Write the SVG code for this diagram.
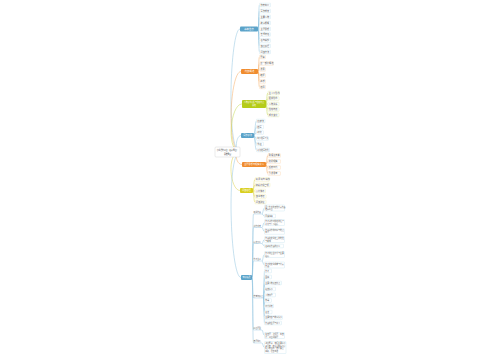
<svg xmlns="http://www.w3.org/2000/svg" width="500" height="360" viewBox="0 0 500 360">
<style>
text{font-family:"Noto Sans CJK SC","Noto Sans",sans-serif;fill:#555}
.lf{font-size:2.2px}
.sm{font-size:1.85px}
.br{font-size:2.4px;fill:#fff}
.rt{font-size:1.8px;fill:#333}
.cb{fill:none;stroke:#8fc3df;stroke-width:.5}
.co{fill:none;stroke:#f4a95e;stroke-width:.5}
.cg{fill:none;stroke:#c3d64a;stroke-width:.5}
.cy{fill:none;stroke:#ddd24a;stroke-width:.5}
.lb{fill:#fff;stroke:#b5d9ec;stroke-width:.3}
.lo{fill:#fff;stroke:#f8c897;stroke-width:.3}
.lg{fill:#fff;stroke:#d5e489;stroke-width:.3}
.ly{fill:#fff;stroke:#ece48a;stroke-width:.3}
.ul{stroke:#8fc3df;stroke-width:.4}
</style>
<rect width="500" height="360" fill="#fff"/>
<g id="connectors">
<path class="cb" d="M240,152 C226,152 230,29 240,29"/>
<path class="co" d="M240,152 C226,152 230,71.5 241,71.5"/>
<path class="cg" d="M240,152 C226,152 230,104 242,104"/>
<path class="cb" d="M240,152 C234,152 236,135.5 241,135.5"/>
<path class="co" d="M240,152 C234,152 236,164.5 242,164.5"/>
<path class="cy" d="M240,152 C226,152 230,190.5 240,190.5"/>
<path class="cb" d="M240,152 C226,152 230,277.5 241,277.5"/>
<g class="cb">
<path d="M258,29 C259,29 258.5,5 259.5,5"/><path d="M258,29 C259,29 258.5,11 259.5,11"/><path d="M258,29 C259,29 258.5,17 259.5,17"/><path d="M258,29 C259,29 258.5,23 259.5,23"/><path d="M258,29 C259,29 258.5,29 259.5,29"/><path d="M258,29 C259,29 258.5,34.5 259.5,34.5"/><path d="M258,29 C259,29 258.5,40.5 259.5,40.5"/><path d="M258,29 C259,29 258.5,46 259.5,46"/><path d="M258,29 C259,29 258.5,52 259.5,52"/>
</g>
<g class="co">
<path d="M258,71.5 C259,71.5 258.5,57 259.5,57"/><path d="M258,71.5 C259,71.5 258.5,63.5 259.5,63.5"/><path d="M258,71.5 C259,71.5 258.5,69.5 259.5,69.5"/><path d="M258,71.5 C259,71.5 258.5,75.5 259.5,75.5"/><path d="M258,71.5 C259,71.5 258.5,81.5 259.5,81.5"/><path d="M258,71.5 C259,71.5 258.5,87 259.5,87"/>
</g>
<g class="cg">
<path d="M266,104 C267,104 266.5,93 268,93"/><path d="M266,104 C267,104 266.5,98.5 268,98.5"/><path d="M266,104 C267,104 266.5,104 268,104"/><path d="M266,104 C267,104 266.5,109.5 268,109.5"/><path d="M266,104 C267,104 266.5,115 268,115"/>
</g>
<g class="cb">
<path d="M254,135.5 C255,135.5 255,121 256.5,121"/><path d="M254,135.5 C255,135.5 255,127 256.5,127"/><path d="M254,135.5 C255,135.5 255,132.5 256.5,132.5"/><path d="M254,135.5 C255,135.5 255,138.5 256.5,138.5"/><path d="M254,135.5 C255,135.5 255,144 256.5,144"/><path d="M254,135.5 C255,135.5 255,150 256.5,150"/>
</g>
<g class="co">
<path d="M266,164.5 C267,164.5 266.5,155.5 268,155.5"/><path d="M266,164.5 C267,164.5 266.5,161.5 268,161.5"/><path d="M266,164.5 C267,164.5 266.5,167.5 268,167.5"/><path d="M266,164.5 C267,164.5 266.5,173.5 268,173.5"/>
</g>
<g class="cy">
<path d="M253,190.5 C254,190.5 253.5,179.5 255,179.5"/><path d="M253,190.5 C254,190.5 253.5,185 255,185"/><path d="M253,190.5 C254,190.5 253.5,191 255,191"/><path d="M253,190.5 C254,190.5 253.5,196.5 255,196.5"/><path d="M253,190.5 C254,190.5 253.5,202 255,202"/>
</g>
<g class="cb">
<path d="M252,277.5 C253,277.5 252.5,214 253.5,214"/><path d="M252,277.5 C253,277.5 252.5,227.5 253.5,227.5"/><path d="M252,277.5 C253,277.5 252.5,243.5 253.5,243.5"/><path d="M252,277.5 C253,277.5 252.5,261 253.5,261"/><path d="M252,277.5 C253,277.5 252.5,298 253.5,298"/><path d="M252,277.5 C253,277.5 252.5,330 253.5,330"/><path d="M252,277.5 C253,277.5 252.5,343 253.5,343"/>
<path d="M262,214 C263,214 263,208 264.5,208"/><path d="M262,214 C263,214 263,216 264.5,216"/>
<path d="M262,227.5 C263,227.5 263,222.5 264.5,222.5"/><path d="M262,227.5 C263,227.5 263,231.5 264.5,231.5"/>
<path d="M262,243.5 C263,243.5 263,239.5 264.5,239.5"/><path d="M262,243.5 C263,243.5 263,246 264.5,246"/>
<path d="M262,261 C263,261 263,254.5 264.5,254.5"/><path d="M262,261 C263,261 263,265 264.5,265"/>
<path d="M263.5,298 C264,298 264,271 264.5,271"/><path d="M263.5,298 C264,298 264,277 264.5,277"/><path d="M263.5,298 C264,298 264,283 264.5,283"/><path d="M263.5,298 C264,298 264,289 264.5,289"/><path d="M263.5,298 C264,298 264,295 264.5,295"/><path d="M263.5,298 C264,298 264,300.5 264.5,300.5"/><path d="M263.5,298 C264,298 264,306 264.5,306"/><path d="M263.5,298 C264,298 264,312 264.5,312"/><path d="M263.5,298 C264,298 264,317.5 264.5,317.5"/><path d="M263.5,298 C264,298 264,323 264.5,323"/>
<path d="M262,330 C263,330 263,335.5 264.5,335.5"/>
<path d="M262,343 C263,343 263,347.5 264.5,347.5"/>
</g>
</g>
<g id="root">
<rect x="215" y="147" width="25" height="10" rx="1" fill="#fff" stroke="#bbb" stroke-width=".3"/>
<text class="rt" x="227.5" y="151.3" text-anchor="middle">小学课外阅读（名著导读）</text>
<text class="rt" x="227.5" y="154.8" text-anchor="middle">思维导图</text>
</g>
<g id="b1">
<rect x="240" y="26.5" width="18" height="5" rx="1" fill="#5ba3c9"/>
<text class="br" x="249" y="29.9" text-anchor="middle">基本信息</text>
</g>
<g id="b1-leaves">
<g id="b1l1"><rect class="lb" x="259.5" y="3.2" width="11" height="3.6" rx=".5"/><text class="lf" x="260.5" y="5.8">作者简介</text></g>
<g id="b1l2"><rect class="lb" x="259.5" y="9.2" width="11" height="3.6" rx=".5"/><text class="lf" x="260.5" y="11.8">写作背景</text></g>
<g id="b1l3"><rect class="lb" x="259.5" y="15.2" width="11" height="3.6" rx=".5"/><text class="lf" x="260.5" y="17.8">主要人物</text></g>
<g id="b1l4"><rect class="lb" x="259.5" y="21.2" width="11" height="3.6" rx=".5"/><text class="lf" x="260.5" y="23.8">故事梗概</text></g>
<g id="b1l5"><rect class="lb" x="259.5" y="27.2" width="11" height="3.6" rx=".5"/><text class="lf" x="260.5" y="29.8">主题思想</text></g>
<g id="b1l6"><rect class="lb" x="259.5" y="32.7" width="11" height="3.6" rx=".5"/><text class="lf" x="260.5" y="35.3">艺术特色</text></g>
<g id="b1l7"><rect class="lb" x="259.5" y="38.7" width="11" height="3.6" rx=".5"/><text class="lf" x="260.5" y="41.3">名句摘抄</text></g>
<g id="b1l8"><rect class="lb" x="259.5" y="44.2" width="11" height="3.6" rx=".5"/><text class="lf" x="260.5" y="46.8">读后感悟</text></g>
<g id="b1l9"><rect class="lb" x="259.5" y="50.2" width="11" height="3.6" rx=".5"/><text class="lf" x="260.5" y="52.8">阅读方法</text></g>
</g>
<g id="b2">
<rect x="241" y="69" width="17" height="5" rx="1" fill="#f08c2e"/>
<text class="br" x="249.5" y="72.4" text-anchor="middle">内容概述</text>
</g>
<g id="b2-leaves">
<g id="b2l1"><rect class="lo" x="259.5" y="55.2" width="6" height="3.6" rx=".5"/><text class="lf" x="260.3" y="57.8">开篇</text></g>
<g id="b2l2"><rect class="lo" x="259.5" y="61.7" width="14" height="3.6" rx=".5"/><text class="lf" x="260.3" y="64.3">第一部分概述</text></g>
<g id="b2l3"><rect class="lo" x="259.5" y="67.7" width="6" height="3.6" rx=".5"/><text class="lf" x="260.3" y="70.3">发展</text></g>
<g id="b2l4"><rect class="lo" x="259.5" y="73.7" width="6" height="3.6" rx=".5"/><text class="lf" x="260.3" y="76.3">转折</text></g>
<g id="b2l5"><rect class="lo" x="259.5" y="79.7" width="6" height="3.6" rx=".5"/><text class="lf" x="260.3" y="82.3">高潮</text></g>
<g id="b2l6"><rect class="lo" x="259.5" y="85.2" width="6" height="3.6" rx=".5"/><text class="lf" x="260.3" y="87.8">结局</text></g>
</g>
<g id="b3">
<rect x="242" y="100" width="24" height="8" rx="1" fill="#b5cc18"/>
<text class="sm" x="254" y="103.4" text-anchor="middle" style="fill:#fff">人物形象分析与性格特点</text>
<text class="sm" x="254" y="106.4" text-anchor="middle" style="fill:#fff">总结</text>
</g>
<g id="b3-leaves">
<g id="b3l1"><rect class="lg" x="268" y="91.2" width="11.5" height="3.6" rx=".5"/><text class="lf" x="268.7" y="93.8">主人公形象</text></g>
<g id="b3l2"><rect class="lg" x="268" y="96.7" width="11" height="3.6" rx=".5"/><text class="lf" x="268.8" y="99.3">配角形象</text></g>
<g id="b3l3"><rect class="lg" x="268" y="102.2" width="11" height="3.6" rx=".5"/><text class="lf" x="268.8" y="104.8">人物关系</text></g>
<g id="b3l4"><rect class="lg" x="268" y="107.7" width="11" height="3.6" rx=".5"/><text class="lf" x="268.8" y="110.3">性格特点</text></g>
<g id="b3l5"><rect class="lg" x="268" y="113.2" width="11" height="3.6" rx=".5"/><text class="lf" x="268.8" y="115.8">成长变化</text></g>
</g>
<g id="b4">
<rect x="241" y="133" width="13" height="5" rx="1" fill="#5ba3c9"/>
<text class="br" x="247.5" y="136.4" text-anchor="middle" style="font-size:2.2px">写作手法</text>
</g>
<g id="b4-leaves">
<g id="b4l1"><rect class="lb" x="256.5" y="119.2" width="8.5" height="3.6" rx=".5"/><text class="lf" x="257.3" y="121.8">修辞法</text></g>
<g id="b4l2"><rect class="lb" x="256.5" y="125.2" width="7" height="3.6" rx=".5"/><text class="lf" x="257.3" y="127.8">描写</text></g>
<g id="b4l3"><rect class="lb" x="256.5" y="130.7" width="7" height="3.6" rx=".5"/><text class="lf" x="257.3" y="133.3">对比</text></g>
<g id="b4l4"><rect class="lb" x="256.5" y="136.7" width="12" height="3.6" rx=".5"/><text class="lf" x="257.3" y="139.3" style="font-size:1.8px">细节描写手法</text></g>
<g id="b4l5"><rect class="lb" x="256.5" y="142.2" width="7" height="3.6" rx=".5"/><text class="lf" x="257.3" y="144.8">象征</text></g>
<g id="b4l6"><rect class="lb" x="256.5" y="148.2" width="13" height="3.6" rx=".5"/><text class="lf" x="257.3" y="150.8" style="font-size:1.9px">环境描写衬托</text></g>
</g>
<g id="b5">
<rect x="242" y="162" width="24" height="5" rx="1" fill="#f08c2e"/>
<text class="br" x="254" y="165.3" text-anchor="middle" style="font-size:2.2px">主题思想与现实意义</text>
</g>
<g id="b5-leaves">
<g id="b5l1"><rect class="lo" x="268" y="153.7" width="12.5" height="3.6" rx=".5"/><text class="lf" x="268.8" y="156.3">歌颂真善美</text></g>
<g id="b5l2"><rect class="lo" x="268" y="159.7" width="12.5" height="3.6" rx=".5"/><text class="lf" x="268.8" y="162.3">批判现实</text></g>
<g id="b5l3"><rect class="lo" x="268" y="165.7" width="12.5" height="3.6" rx=".5"/><text class="lf" x="268.8" y="168.3">反映时代</text></g>
<g id="b5l4"><rect class="lo" x="268" y="171.7" width="12.5" height="3.6" rx=".5"/><text class="lf" x="268.8" y="174.3">引发思考</text></g>
</g>
<g id="b6">
<rect x="240" y="188" width="13" height="5" rx="1" fill="#d9cf1f"/>
<text class="br" x="246.5" y="191.3" text-anchor="middle" style="font-size:2.2px">阅读感悟</text>
</g>
<g id="b6-leaves">
<g id="b6l1"><rect class="ly" x="255" y="177.7" width="14.5" height="3.6" rx=".5"/><text class="lf" x="255.8" y="180.3">好词 好句 摘抄</text></g>
<g id="b6l2"><rect class="ly" x="255" y="183.2" width="15" height="3.6" rx=".5"/><text class="lf" x="255.8" y="185.8">精彩片段赏析</text></g>
<g id="b6l3"><rect class="ly" x="255" y="189.2" width="10.5" height="3.6" rx=".5"/><text class="lf" x="255.8" y="191.8">心得体会</text></g>
<g id="b6l4"><rect class="ly" x="255" y="194.7" width="11" height="3.6" rx=".5"/><text class="lf" x="255.8" y="197.3">读书笔记</text></g>
<g id="b6l5"><rect class="ly" x="255" y="200.2" width="11" height="3.6" rx=".5"/><text class="lf" x="255.8" y="202.8">阅读建议</text></g>
</g>
<g id="b7">
<rect x="241" y="275" width="11" height="5" rx="1" fill="#5ba3c9"/>
<text class="br" x="246.5" y="278.3" text-anchor="middle" style="font-size:2px">知识拓展</text>
</g>
<g id="b7-subs">
<g id="s1"><text class="sm" x="253.6" y="213.4">相关作品</text><line class="ul" x1="253.5" y1="214" x2="262" y2="214"/></g>
<g id="s2"><text class="sm" x="253.6" y="226.9">创作背景</text><line class="ul" x1="253.5" y1="227.5" x2="262" y2="227.5"/></g>
<g id="s3"><text class="sm" x="253.6" y="242.9">历史评价</text><line class="ul" x1="253.5" y1="243.5" x2="262" y2="243.5"/></g>
<g id="s4"><text class="sm" x="253.6" y="260.4">作者生平</text><line class="ul" x1="253.5" y1="261" x2="262" y2="261"/></g>
<g id="s5"><text class="sm" x="253.6" y="297.4">常考知识点</text><line class="ul" x1="253.5" y1="298" x2="263.5" y2="298"/></g>
<g id="s6"><text class="sm" x="253.6" y="329.4">阅读题型</text><line class="ul" x1="253.5" y1="330" x2="262" y2="330"/></g>
<g id="s7"><text class="sm" x="253.6" y="342.4">答题技巧</text><line class="ul" x1="253.5" y1="343" x2="262" y2="343"/></g>
</g>
<g id="b7-leaves">
<g id="s1a"><rect class="lb" x="264.5" y="205" width="20" height="6" rx=".5"/><text class="sm" x="265.2" y="207.6">同一作者的其他代表作品</text><text class="sm" x="265.2" y="210.1">推荐阅读</text></g>
<g id="s1b"><rect class="lb" x="264.5" y="214.2" width="11" height="3.6" rx=".5"/><text class="sm" x="265.3" y="216.7">同类书籍</text></g>
<g id="s2a"><rect class="lb" x="264.5" y="219.5" width="20" height="6" rx=".5"/><text class="sm" x="265.3" y="222.1">作者创作时所处的社会</text><text class="sm" x="265.3" y="224.6">环境与个人经历</text></g>
<g id="s2b"><rect class="lb" x="264.5" y="228.7" width="20" height="5.6" rx=".5"/><text class="sm" x="265.3" y="231.2">作品创作的时间与地点</text><text class="sm" x="265.3" y="233.3">简介</text></g>
<g id="s3a"><rect class="lb" x="264.5" y="236.5" width="20" height="6" rx=".5"/><text class="sm" x="265.3" y="239.1">作品在文学史上的地位</text><text class="sm" x="265.3" y="241.6">与影响</text></g>
<g id="s3b"><rect class="lb" x="264.5" y="244.2" width="19" height="3.6" rx=".5"/><text class="sm" x="265.3" y="246.7">名家对作品的评价</text></g>
<g id="s4a"><rect class="lb" x="264.5" y="251.5" width="20" height="6" rx=".5"/><text class="sm" x="265.3" y="254.1">作者的出生年代与主要</text><text class="sm" x="265.3" y="256.6">经历</text></g>
<g id="s4b"><rect class="lb" x="264.5" y="262" width="20" height="6" rx=".5"/><text class="sm" x="265.3" y="264.6">作者的文学成就与代表</text><text class="sm" x="265.3" y="267.1">作品</text></g>
<g id="s5a"><rect class="lb" x="264.5" y="269.2" width="7" height="3.6" rx=".5"/><text class="sm" x="265.3" y="271.7">作者</text></g>
<g id="s5b"><rect class="lb" x="264.5" y="275.2" width="7" height="3.6" rx=".5"/><text class="sm" x="265.3" y="277.7">国籍</text></g>
<g id="s5c"><rect class="lb" x="264.5" y="281.2" width="17" height="3.6" rx=".5"/><text class="sm" x="265.3" y="283.7">主要人物及其特点</text></g>
<g id="s5d"><rect class="lb" x="264.5" y="287.2" width="11" height="3.6" rx=".5"/><text class="sm" x="265.3" y="289.7">经典情节</text></g>
<g id="s5e"><rect class="lb" x="264.5" y="293.2" width="11" height="3.6" rx=".5"/><text class="sm" x="265.3" y="295.7">人物绰号</text></g>
<g id="s5f"><rect class="lb" x="264.5" y="298.7" width="7" height="3.6" rx=".5"/><text class="sm" x="265.3" y="301.2">体裁</text></g>
<g id="s5g"><rect class="lb" x="264.5" y="304.2" width="9" height="3.6" rx=".5"/><text class="sm" x="265.3" y="306.7">时代背景</text></g>
<g id="s5h"><rect class="lb" x="264.5" y="310.2" width="7.5" height="3.6" rx=".5"/><text class="sm" x="265.3" y="312.7">名言</text></g>
<g id="s5i"><rect class="lb" x="264.5" y="315.7" width="18" height="3.6" rx=".5"/><text class="sm" x="265.3" y="318.2">主要内容与故事情节</text></g>
<g id="s5j"><rect class="lb" x="264.5" y="321.2" width="17" height="3.6" rx=".5"/><text class="sm" x="265.3" y="323.7">作品的主题与意义</text></g>
<g id="s6a"><rect class="lb" x="264.5" y="332.5" width="20" height="6" rx=".5"/><text class="sm" x="265.3" y="335.1">填空题、选择题、简答</text><text class="sm" x="265.3" y="337.6">题、阅读理解题</text></g>
<g id="s7a"><rect class="lb" x="264.5" y="341.5" width="21.5" height="12" rx=".5"/><text class="sm" x="265.2" y="344.1">熟读原著，掌握主要情节</text><text class="sm" x="265.2" y="346.6">和人物；结合具体情节分</text><text class="sm" x="265.2" y="349.1">析人物形象；答题要点</text><text class="sm" x="265.2" y="351.6">明确，语言简洁</text></g>
</g>
</svg>
